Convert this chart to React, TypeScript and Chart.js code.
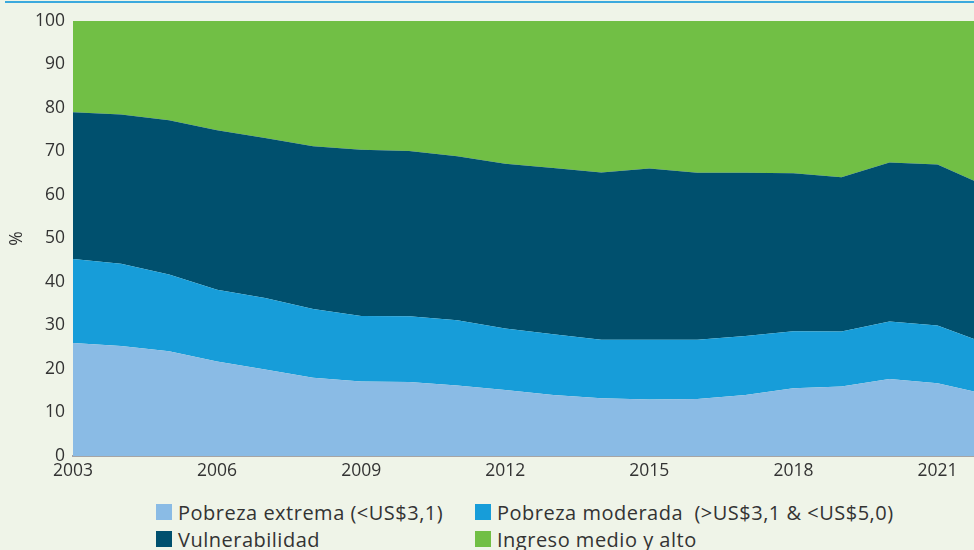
import React, { useEffect, useRef } from 'react';
import { Chart, registerables } from 'chart.js';

Chart.register(...registerables);

const YEARS = [2003, 2004, 2005, 2006, 2007, 2008, 2009, 2010, 2011, 2012, 2013, 2014, 2015, 2016, 2017, 2018, 2019, 2020, 2021, 2022];
const X_TICKS = [2003, 2006, 2009, 2012, 2015, 2018, 2021];
const Y_TICKS = [0, 10, 20, 30, 40, 50, 60, 70, 80, 90, 100];

const POBREZA_EXTREMA = [26.0, 25.3, 24.1, 21.7, 19.9, 18.0, 17.1, 17.0, 16.2, 15.2, 14.0, 13.3, 13.0, 13.1, 14.0, 15.6, 16.0, 17.7, 16.7, 14.2];
const POBREZA_MODERADA = [19.3, 18.9, 17.6, 16.5, 16.4, 15.8, 15.1, 15.1, 15.0, 14.1, 14.0, 13.4, 13.7, 13.6, 13.6, 13.1, 12.6, 13.2, 13.3, 11.7];
const VULNERABILIDAD = [33.7, 34.3, 35.5, 36.7, 36.8, 37.4, 38.2, 38.0, 37.7, 37.9, 38.2, 38.5, 39.4, 38.4, 37.5, 36.3, 35.5, 36.6, 37.0, 36.2];
const INGRESO_MEDIO_ALTO = [21.0, 21.5, 22.8, 25.1, 26.9, 28.8, 29.6, 29.9, 31.1, 32.8, 33.8, 34.8, 33.9, 34.9, 34.9, 35.0, 35.9, 32.5, 33.0, 37.9];

const SERIES_LABELS = [
  'Pobreza extrema (<US$3,1)',
  'Pobreza moderada  (>US$3,1 & <US$5,0)',
  'Vulnerabilidad',
  'Ingreso medio y alto',
];
const SERIES_COLORS = ['#8ABBE5', '#179DD9', '#00506E', '#71BF45'];

const FONT = "'Open Sans', 'DejaVu Sans', sans-serif";
const TEXT_COLOR = '#333333';
const BG = '#EFF4E8';

export default function App() {
  const canvasRef = useRef<HTMLCanvasElement | null>(null);

  useEffect(() => {
    const canvas = canvasRef.current;
    if (!canvas) return;
    const series = [POBREZA_EXTREMA, POBREZA_MODERADA, VULNERABILIDAD, INGRESO_MEDIO_ALTO];
    const chart = new Chart(canvas, {
      type: 'line',
      data: {
        datasets: series.map((vals, i) => ({
          label: SERIES_LABELS[i],
          data: YEARS.map((x, j) => ({ x, y: vals[j] })),
          backgroundColor: SERIES_COLORS[i],
          borderColor: SERIES_COLORS[i],
          borderWidth: 0,
          pointRadius: 0,
          tension: 0,
          fill: i === 0 ? 'origin' : '-1',
        })),
      },
      options: {
        animation: false,
        responsive: false,
        layout: { padding: { top: 21, left: 0, right: 0, bottom: 0 } },
        plugins: {
          legend: { display: false },
          tooltip: { enabled: false },
        },
        scales: {
          x: {
            type: 'linear',
            min: 2003,
            max: 2021.76,
            afterBuildTicks: (s: any) => {
              s.ticks = X_TICKS.map((v) => ({ value: v }));
            },
            afterFit: (s: any) => {
              s.height = 34;
            },
            grid: { display: false, drawTicks: false },
            border: { display: true, color: '#A5A5A5', width: 2 },
            ticks: {
              padding: 5,
              color: TEXT_COLOR,
              autoSkip: false,
              maxRotation: 0,
              font: { family: FONT, size: 17.5 },
              callback: (v: any) => String(v),
            },
          },
          y: {
            stacked: true,
            min: 0,
            max: 100,
            afterBuildTicks: (s: any) => {
              s.ticks = Y_TICKS.map((v) => ({ value: v }));
            },
            afterFit: (s: any) => {
              s.width = 73;
            },
            grid: { display: false, drawTicks: false },
            border: { display: false },
            ticks: {
              padding: 8,
              color: TEXT_COLOR,
              font: { family: FONT, size: 17.5 },
            },
            title: {
              display: true,
              text: '%',
              color: TEXT_COLOR,
              padding: { top: 7, bottom: 0 },
              font: { family: FONT, size: 17.5 },
            },
          },
        },
      },
    });
    return () => chart.destroy();
  }, []);

  const legendItem = (i: number, left: number, top: number) => (
    <div
      key={i}
      style={{
        position: 'absolute',
        left,
        top,
        height: 20,
        display: 'flex',
        alignItems: 'center',
        whiteSpace: 'pre',
        fontFamily: FONT,
        fontSize: 20,
        letterSpacing: '0.5px',
        color: TEXT_COLOR,
      }}
    >
      <span style={{ display: 'inline-block', width: 16, height: 16, background: SERIES_COLORS[i], marginRight: 6 }} />
      <span>{SERIES_LABELS[i]}</span>
    </div>
  );

  return (
    <div style={{ position: 'fixed', left: 0, top: 0, width: 974, height: 550, background: BG, overflow: 'hidden' }}>
      <div style={{ position: 'absolute', left: 5, right: 0, top: 1, height: 2, background: '#3BA9DD' }} />
      <canvas
        ref={canvasRef}
        width={974}
        height={490}
        style={{ position: 'absolute', left: 0, top: 0, width: 974, height: 490 }}
      />
      {legendItem(0, 156, 502)}
      {legendItem(1, 475, 502)}
      {legendItem(2, 156, 529)}
      {legendItem(3, 475, 529)}
    </div>
  );
}
